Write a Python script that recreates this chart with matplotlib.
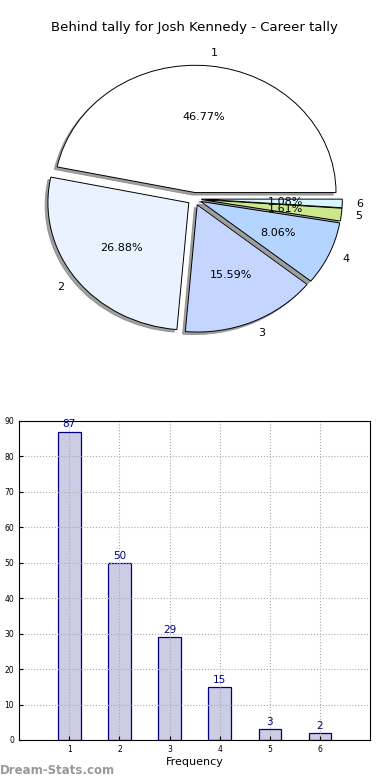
import matplotlib.pyplot as plt

labels = ['1', '2', '3', '4', '5', '6']
counts = [87, 50, 29, 15, 3, 2]
pie_colors = ['#ffffff', '#eaf1ff', '#c4d6ff', '#b3d5ff', '#cbe88e', '#d6f7ff']
bar_x = [1, 2, 3, 4, 5, 6]

fig = plt.figure(figsize=(3.9, 7.8), dpi=100)

# pie on top
ax1 = fig.add_axes([0.047, 0.541, 0.903, 0.408])
wedges, texts, autotexts = ax1.pie(counts, labels=labels, colors=pie_colors,
                                   explode=[0.05]*6, autopct='%.2f%%',
                                   shadow=dict(ox=-0.014, oy=-0.014, facecolor='#888888',
                                               edgecolor='#888888', alpha=0.8),
                                   startangle=0, wedgeprops=dict(edgecolor='black', linewidth=0.7),
                                   textprops=dict(fontsize=8))
ax1.set_aspect('auto')
ax1.set_xlim(-1.25, 1.25)
ax1.set_ylim(-1.25, 1.25)
ax1.set_title('Behind tally for Josh Kennedy - Career tally', fontsize=9.5, pad=6)

# bars underneath
ax2 = fig.add_axes([0.049, 0.0513, 0.9, 0.409])
ax2.bar(bar_x, counts, width=0.45, color='#ccccE5', edgecolor='navy', linewidth=0.9)
for x, c in zip(bar_x, counts):
    ax2.text(x, c + 0.6, str(c), ha='center', va='bottom', color='navy', fontsize=7.5)
ax2.set_xlim(0, 7)
ax2.set_ylim(0, 90)
ax2.set_xticks(bar_x)
ax2.set_yticks(range(0, 91, 10))
ax2.tick_params(direction='in', labelsize=5.5, length=3)
ax2.grid(True, linestyle=':', color='#aaaaaa', linewidth=0.8)
ax2.set_xlabel('Frequency', fontsize=8, labelpad=2)

fig.text(0.0, 0.004, 'Dream-Stats.com', color='#999999', fontsize=8.5, fontweight='bold',
         ha='left', va='bottom')

fig.savefig('out.png', dpi=100)
